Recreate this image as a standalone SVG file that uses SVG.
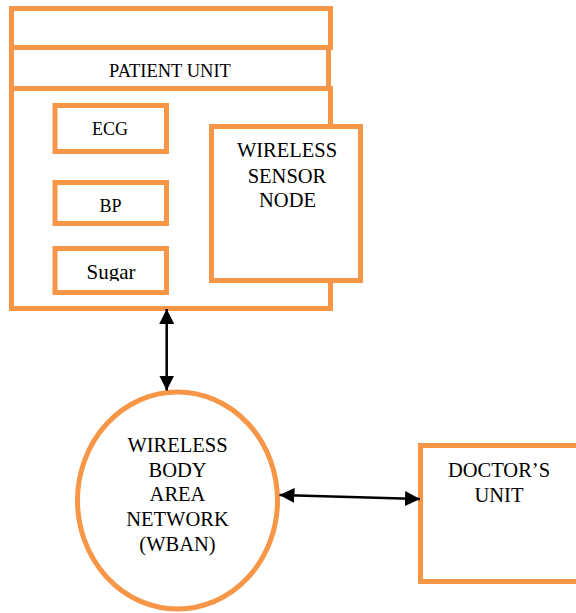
<svg xmlns="http://www.w3.org/2000/svg" width="576" height="613" viewBox="0 0 576 613">
<style>
.box{fill:#fff;stroke:#F79646;stroke-width:5}
.t{font-family:'Liberation Serif','DejaVu Serif',serif;fill:#000;text-anchor:middle}
.c{stroke:#000;stroke-width:2.5;fill:none}
</style>
<defs>
<marker id="ah" markerUnits="userSpaceOnUse" markerWidth="15" markerHeight="15" viewBox="0 0 15 15" refX="15" refY="7.5" orient="auto-start-reverse">
<path d="M0,0 L15,7.5 L0,15 z" fill="#000"/>
</marker>
<clipPath id="sugarClip"><rect x="57" y="250" width="108" height="31"/></clipPath>
</defs>
<g id="patient-unit">
<rect class="box" x="11.5" y="8.5" width="319" height="39"/>
<rect class="box" x="11.5" y="88.5" width="319" height="220"/>
<rect class="box" x="11.5" y="47.5" width="317" height="41"/>
<text class="t" x="170" y="77" font-size="18.5" font-family="Liberation Serif, serif">PATIENT UNIT</text>
</g>
<g id="ecg">
<rect class="box" x="55" y="105.5" width="111.5" height="46"/>
<text class="t" x="110" y="135" font-size="18" font-family="Liberation Serif, serif">ECG</text>
</g>
<g id="bp">
<rect class="box" x="55" y="182.5" width="111.5" height="41"/>
<text class="t" x="110.5" y="211.7" font-size="18" font-family="Liberation Serif, serif">BP</text>
</g>
<g id="sugar">
<rect class="box" x="55" y="248.5" width="111.5" height="44"/>
<text class="t" x="111" y="279" font-size="21" font-family="Liberation Serif, serif" clip-path="url(#sugarClip)">Sugar</text>
</g>
<g id="wireless-sensor-node">
<rect class="box" x="211.5" y="126.5" width="149" height="154"/>
<text class="t" x="287" y="156.7" font-size="20.5" font-family="Liberation Serif, serif">WIRELESS</text>
<text class="t" x="287" y="182.7" font-size="20.5" font-family="Liberation Serif, serif">SENSOR</text>
<text class="t" x="287.5" y="207.3" font-size="20.5" font-family="Liberation Serif, serif">NODE</text>
</g>
<g id="wban">
<ellipse class="box" cx="177.5" cy="500.5" rx="100" ry="108.5"/>
<text class="t" x="177.5" y="451.7" font-size="20.5" font-family="Liberation Serif, serif">WIRELESS</text>
<text class="t" x="177.5" y="476.7" font-size="20.5" font-family="Liberation Serif, serif">BODY</text>
<text class="t" x="177.5" y="501" font-size="20.5" font-family="Liberation Serif, serif">AREA</text>
<text class="t" x="177.5" y="526" font-size="20.5" font-family="Liberation Serif, serif">NETWORK</text>
<text class="t" x="177.5" y="550.7" font-size="20.5" font-family="Liberation Serif, serif">(WBAN)</text>
</g>
<g id="doctors-unit">
<rect class="box" x="420.5" y="445.5" width="165" height="136"/>
<text class="t" x="499" y="476.7" font-size="20.5" font-family="Liberation Serif, serif">DOCTOR’S</text>
<text class="t" x="499" y="501.7" font-size="20.5" font-family="Liberation Serif, serif">UNIT</text>
</g>
<g id="connectors">
<path class="c" d="M166.7,309 L166.7,390.5" marker-start="url(#ah)" marker-end="url(#ah)"/>
<path class="c" d="M279.5,495 L420,499" marker-start="url(#ah)" marker-end="url(#ah)"/>
</g>
</svg>
